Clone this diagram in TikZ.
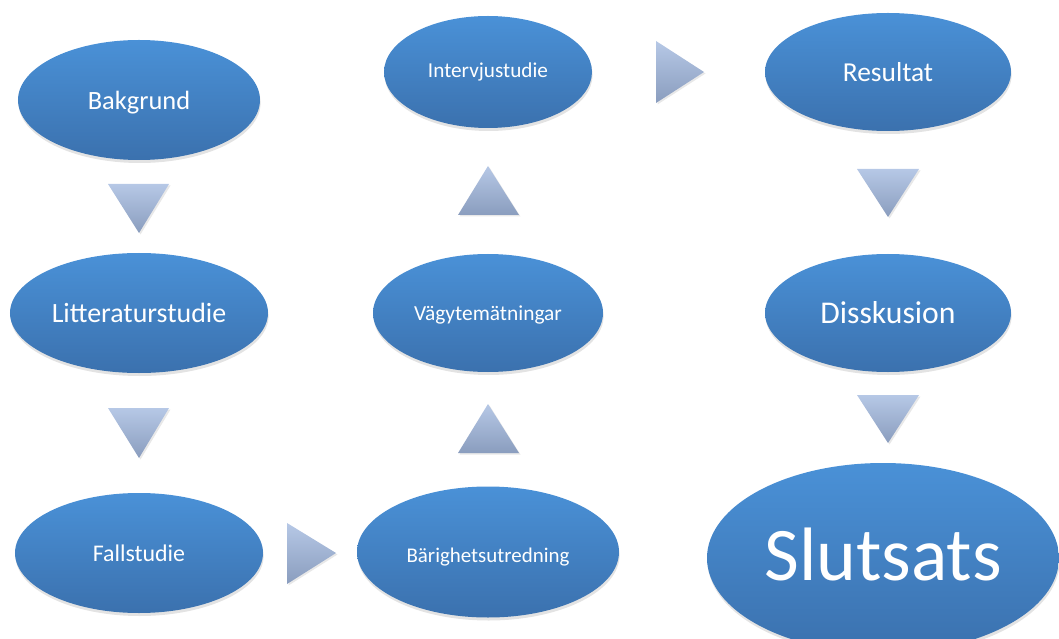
\documentclass[tikz,border=0pt]{standalone}
\usepackage{fontspec}
\setmainfont{Carlito}
\usetikzlibrary{shapes.geometric,shadows,calc}
\definecolor{elltop}{HTML}{4A91D7}
\definecolor{ellbot}{HTML}{3B71AE}
\definecolor{tritop}{HTML}{B6C8E6}
\definecolor{tribot}{HTML}{8A9DBE}
\tikzset{
  stage/.style={ellipse, inner sep=0pt, top color=elltop, bottom color=ellbot,
    text=white, draw=none, text height=24bp, text depth=4bp,
    drop shadow={opacity=0.22, shadow xshift=0.6bp, shadow yshift=-3bp}},
  tri/.style={top color=tritop, bottom color=tribot, draw=none,
    drop shadow={opacity=0.18, shadow xshift=1.5bp, shadow yshift=-1.5bp}},
}
\begin{document}
\begin{tikzpicture}[x=1bp,y=-1bp]
\useasboundingbox (0,0) rectangle (1059,639);
\clip (0,0) rectangle (1059,639);
% stages
\node[stage, minimum width=242bp, minimum height=120bp, font=\fontsize{26.5}{30}\selectfont] (bak) at (139,100) {Bakgrund};
\node[stage, minimum width=258bp, minimum height=120bp, text height=22bp, font=\fontsize{28}{32}\selectfont] (lit) at (139,313) {Litteraturstudie};
\node[stage, minimum width=248bp, minimum height=120bp, text height=20bp, font=\fontsize{24}{28}\selectfont] (fall) at (139,553) {Fallstudie};
\node[stage, minimum width=262bp, minimum height=131bp, font=\fontsize{21}{24}\selectfont] (bar) at (488,552) {Bärighetsutredning};
\node[stage, minimum width=230bp, minimum height=118bp, text height=18bp, font=\fontsize{21.5}{24}\selectfont] (vag) at (488,313) {Vägytemätningar};
\node[stage, minimum width=208bp, minimum height=112bp, text height=16bp, font=\fontsize{21.3}{24}\selectfont] (int) at (488,72) {Intervjustudie};
\node[stage, minimum width=246bp, minimum height=118bp, font=\fontsize{27.5}{30}\selectfont] (res) at (888,72) {Resultat};
\node[stage, minimum width=246bp, minimum height=118bp, font=\fontsize{31.8}{36}\selectfont] (dis) at (888,313) {Disskusion};
\node[stage, minimum width=352bp, minimum height=190bp, text height=48bp, font=\fontsize{76}{80}\selectfont] (slut) at (883,558) {Slutsats};
% triangles between stages
\path[tri] (108,184) -- (169,184) -- (139,233) -- cycle;
\path[tri] (108,408) -- (169,408) -- (139,458) -- cycle;
\path[tri] (287,523) -- (336,553) -- (287,584) -- cycle;
\path[tri] (458,453) -- (519,453) -- (488,404) -- cycle;
\path[tri] (458,215) -- (519,215) -- (488,166) -- cycle;
\path[tri] (656,41) -- (704,72) -- (656,103) -- cycle;
\path[tri] (857,169) -- (919,169) -- (888,217) -- cycle;
\path[tri] (857,395) -- (919,395) -- (888,443) -- cycle;
\end{tikzpicture}
\end{document}
